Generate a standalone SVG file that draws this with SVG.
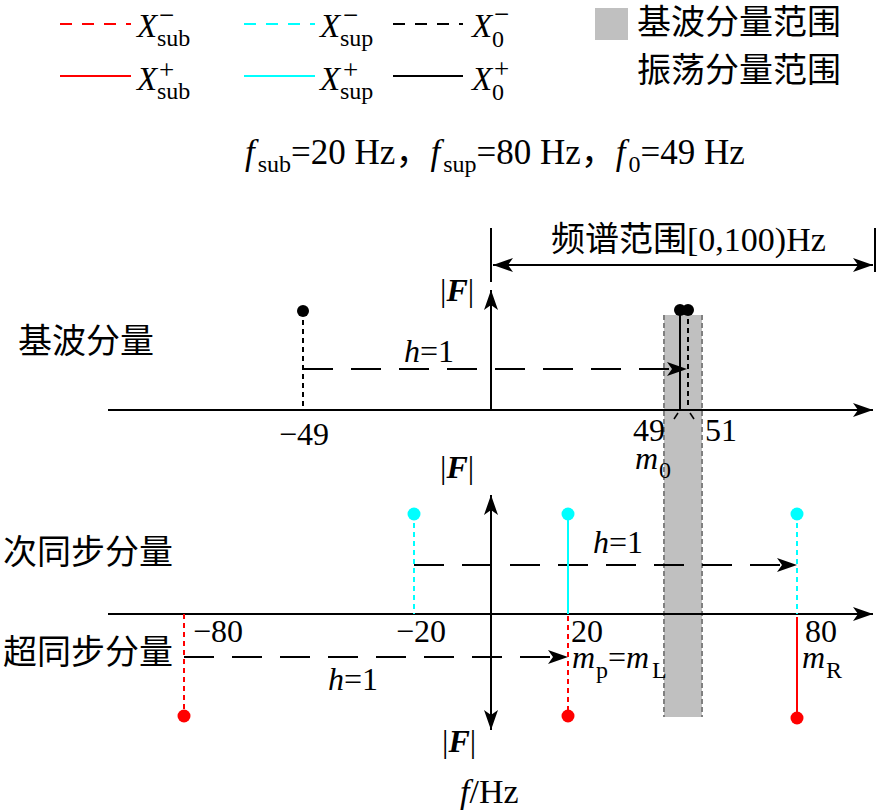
<svg xmlns="http://www.w3.org/2000/svg" width="879" height="811" viewBox="0 0 879 811">
<style>
.t{font-family:"Liberation Serif","Noto Sans CJK SC",serif;fill:#000}
.cj{font-family:"Liberation Serif","Noto Sans CJK SC",serif;font-size:34px;fill:#000}
.it{font-style:italic}
.b{font-weight:bold}
.ax{stroke:#000;stroke-width:2;fill:none}
.dash{stroke:#000;stroke-width:2;fill:none;stroke-dasharray:30 18}
.dotk{stroke:#000;stroke-width:2;stroke-dasharray:5 4}
.dotr{stroke:#ff0000;stroke-width:2;stroke-dasharray:5 4}
.dotc{stroke:#00ffff;stroke-width:2;stroke-dasharray:5 4}
.lgd{stroke-width:2;stroke-dasharray:12 10}
.solk{stroke:#000;stroke-width:2}
.solr{stroke:#ff0000;stroke-width:2}
.solc{stroke:#00ffff;stroke-width:2}
</style>
<defs>
<marker id="ah" markerUnits="userSpaceOnUse" markerWidth="22" markerHeight="16" refX="20" refY="8" orient="auto">
<path d="M0,1 L20,8 L0,15 L5,8 z" fill="#000"/>
</marker>
<marker id="ahs" markerUnits="userSpaceOnUse" markerWidth="22" markerHeight="16" refX="20" refY="8" orient="auto-start-reverse">
<path d="M0,1 L20,8 L0,15 L5,8 z" fill="#000"/>
</marker>
</defs>

<g id="legend">
<line x1="60" y1="24" x2="131" y2="24" class="lgd" stroke="#ff0000"/>
<line x1="60" y1="76" x2="131" y2="76" class="solr"/>
<line x1="244" y1="24" x2="315" y2="24" class="lgd" stroke="#00ffff"/>
<line x1="244" y1="76" x2="315" y2="76" class="solc"/>
<line x1="393" y1="24" x2="463" y2="24" class="lgd" stroke="#000"/>
<line x1="393" y1="76" x2="463" y2="76" class="solk"/>
<text class="t it" x="137" y="37" font-size="33">X</text>
<text class="t" x="157" y="46" font-size="24">sub</text>
<text class="t" x="159" y="24" font-size="27">−</text>
<text class="t it" x="137" y="90" font-size="33">X</text>
<text class="t" x="157" y="99" font-size="24">sub</text>
<text class="t" x="159" y="79" font-size="27">+</text>
<text class="t it" x="320" y="37" font-size="33">X</text>
<text class="t" x="340" y="46" font-size="24">sup</text>
<text class="t" x="343" y="24" font-size="27">−</text>
<text class="t it" x="320" y="90" font-size="33">X</text>
<text class="t" x="340" y="99" font-size="24">sup</text>
<text class="t" x="343" y="79" font-size="27">+</text>
<text class="t it" x="472" y="37" font-size="33">X</text>
<text class="t" x="492" y="47" font-size="24">0</text>
<text class="t" x="494" y="23" font-size="27">−</text>
<text class="t it" x="472" y="90" font-size="33">X</text>
<text class="t" x="492" y="100" font-size="24">0</text>
<text class="t" x="494" y="78" font-size="27">+</text>
<rect x="595" y="8" width="33" height="32" fill="#c0c0c0"/>
<text class="cj" x="637" y="34">基波分量范围</text>
<text class="cj" x="637" y="82">振荡分量范围</text>
</g>

<g id="formula">
<text class="t" font-size="35" x="245" y="164"><tspan class="it">f</tspan><tspan dx="3" dy="8" font-size="24">sub</tspan><tspan dy="-8">=20 Hz，</tspan><tspan class="it">f</tspan><tspan dx="3" dy="8" font-size="24">sup</tspan><tspan dy="-8">=80 Hz，</tspan><tspan class="it">f</tspan><tspan dx="3" dy="8" font-size="24">0</tspan><tspan dy="-8">=49 Hz</tspan></text>
</g>

<g id="band">
<rect x="664" y="315" width="38" height="402" fill="#c0c0c0"/>
<line x1="664" y1="315" x2="664" y2="717" stroke="#808080" stroke-width="2" stroke-dasharray="5 3"/>
<line x1="702" y1="315" x2="702" y2="717" stroke="#808080" stroke-width="2" stroke-dasharray="5 3"/>
</g>

<g id="connectors">
<line x1="491" y1="228" x2="491" y2="282" class="ax"/>
<line x1="875" y1="228" x2="875" y2="272" class="ax"/>
<line x1="493" y1="265" x2="873" y2="265" class="ax" marker-start="url(#ahs)" marker-end="url(#ah)"/>
<line x1="108" y1="410" x2="873" y2="410" class="ax" marker-end="url(#ah)"/>
<line x1="491" y1="410" x2="491" y2="290" class="ax" marker-end="url(#ah)"/>
<line x1="108" y1="614" x2="873" y2="614" class="ax" marker-end="url(#ah)"/>
<line x1="491" y1="614" x2="491" y2="495" class="ax" marker-end="url(#ah)"/>
<line x1="491" y1="614" x2="491" y2="730" class="ax" marker-end="url(#ah)"/>
<path d="M303,369 H687" class="dash" marker-end="url(#ah)"/>
<path d="M414,565 H797" class="dash" marker-end="url(#ah)"/>
<path d="M184,657 H568" class="dash" marker-end="url(#ah)"/>
</g>

<g id="fundamental">
<line x1="303" y1="311" x2="303" y2="410" class="dotk"/>
<circle cx="303" cy="311" r="6" fill="#000"/>
<line x1="680" y1="310" x2="680" y2="410" class="solk"/>
<line x1="688" y1="310" x2="688" y2="410" class="dotk"/>
<circle cx="680" cy="310" r="6" fill="#000"/>
<circle cx="688" cy="310" r="6" fill="#000"/>
<line x1="674" y1="419" x2="678" y2="413" stroke="#000" stroke-width="1.5"/>
<line x1="690" y1="413" x2="694" y2="419" stroke="#000" stroke-width="1.5"/>
</g>

<g id="sub-sync">
<line x1="414" y1="514" x2="414" y2="614" class="dotc"/>
<circle cx="414" cy="514" r="6.5" fill="#00ffff"/>
<line x1="568" y1="514" x2="568" y2="614" class="solc"/>
<circle cx="568" cy="514" r="6.5" fill="#00ffff"/>
<line x1="797" y1="514" x2="797" y2="614" class="dotc"/>
<circle cx="797" cy="514" r="6.5" fill="#00ffff"/>
</g>

<g id="super-sync">
<line x1="184" y1="614" x2="184" y2="716" class="dotr"/>
<circle cx="184" cy="716" r="6.5" fill="#ff0000"/>
<line x1="568" y1="616" x2="568" y2="716" class="dotr"/>
<circle cx="568" cy="716" r="6.5" fill="#ff0000"/>
<line x1="797" y1="617" x2="797" y2="718" class="solr"/>
<circle cx="797" cy="718" r="6.5" fill="#ff0000"/>
</g>

<g id="labels">
<text class="cj" x="551" y="251">频谱范围[0,100)Hz</text>
<text class="cj" x="18" y="353">基波分量</text>
<text class="cj" x="3" y="564">次同步分量</text>
<text class="cj" x="3" y="664">超同步分量</text>
<text class="t" font-size="32" x="440" y="301">|<tspan class="it b">F</tspan>|</text>
<text class="t" font-size="32" x="440" y="478">|<tspan class="it b">F</tspan>|</text>
<text class="t" font-size="32" x="442" y="752">|<tspan class="it b">F</tspan>|</text>
<text class="t" font-size="32" x="404" y="362"><tspan class="it">h</tspan>=1</text>
<text class="t" font-size="32" x="593" y="553"><tspan class="it">h</tspan>=1</text>
<text class="t" font-size="32" x="328" y="690"><tspan class="it">h</tspan>=1</text>
<text class="t" font-size="32" x="279" y="445">−49</text>
<text class="t" font-size="32" x="633" y="441">49</text>
<text class="t" font-size="32" x="705" y="441">51</text>
<text class="t it" font-size="32" x="635" y="469">m</text>
<text class="t" font-size="24" x="659" y="478">0</text>
<text class="t" font-size="32" x="193" y="642">−80</text>
<text class="t" font-size="32" x="396" y="642">−20</text>
<text class="t" font-size="32" x="571" y="642">20</text>
<text class="t" font-size="32" x="805" y="642">80</text>
<text class="t it" font-size="32" x="572" y="668">m</text>
<text class="t" font-size="24" x="596" y="678">p</text>
<text class="t" font-size="32" x="608" y="668">=<tspan class="it">m</tspan></text>
<text class="t" font-size="24" x="652" y="678">L</text>
<text class="t it" font-size="32" x="802" y="668">m</text>
<text class="t" font-size="24" x="826" y="678">R</text>
<text class="t" font-size="34" x="460" y="803"><tspan class="it">f</tspan>/Hz</text>
</g>
</svg>
